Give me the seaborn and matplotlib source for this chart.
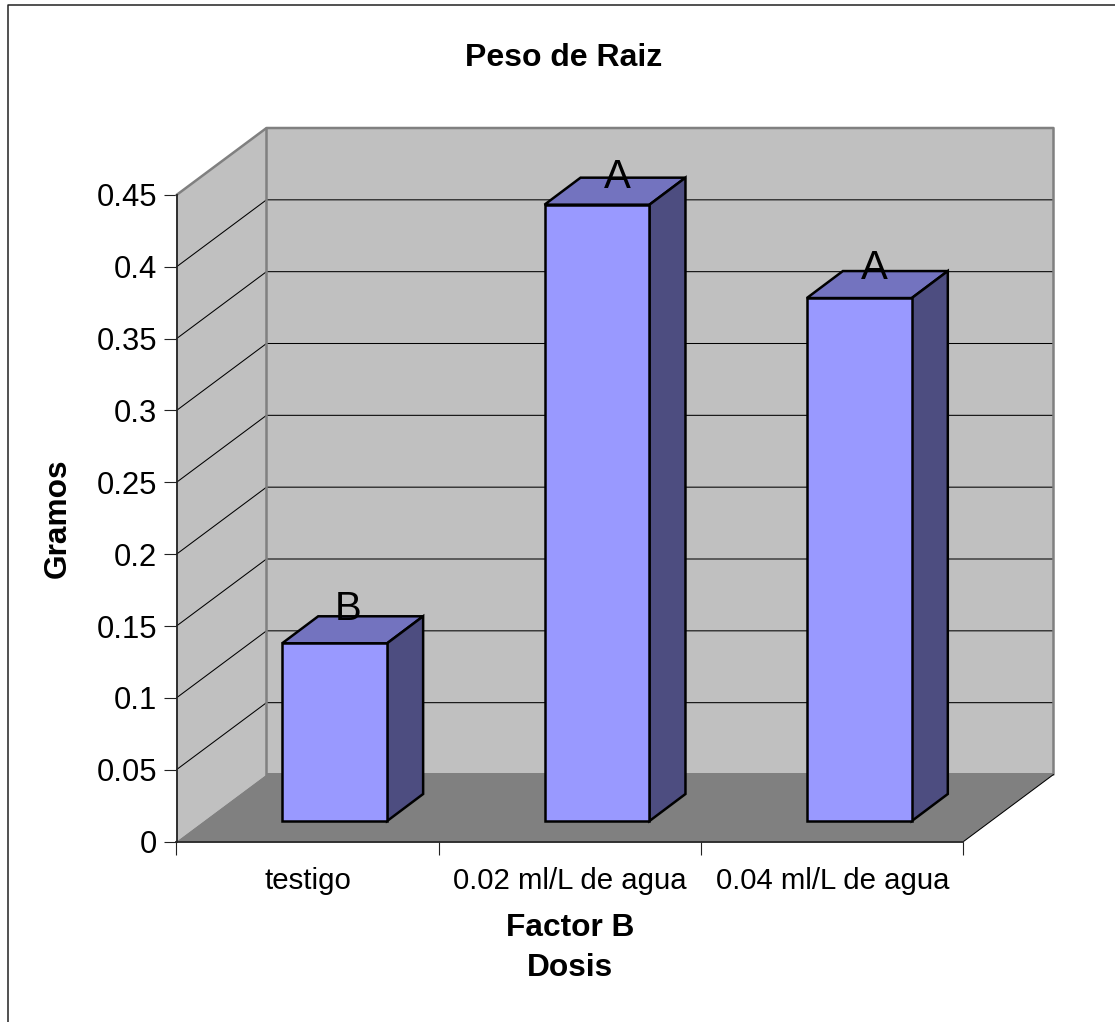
import matplotlib
matplotlib.use('Agg')
import matplotlib.pyplot as plt
from matplotlib.lines import Line2D
from matplotlib.patches import Polygon
import pandas as pd
import seaborn as sns

categories = ['testigo', '0.02 ml/L de agua', '0.04 ml/L de agua']
gramos = [0.1237, 0.429, 0.364]
letters = ['B', 'A', 'A']
y_ticks = [0, 0.05, 0.1, 0.15, 0.2, 0.25, 0.3, 0.35, 0.4, 0.45]
y_labels = ['0', '0.05', '0.1', '0.15', '0.2', '0.25', '0.3', '0.35', '0.4', '0.45']

W, H = 1115, 1022
FONT = ['Liberation Sans', 'DejaVu Sans']

# where the front plane of the fake 3d box sits, in pixels
left, right, top, bottom = 176.5, 963.5, 195, 841.5
px_x = 3 / (right - left)
px_y = 0.45 / (bottom - top)
wall_dx, wall_dy = 90 * px_x, 67 * px_y
floor_dy = 68.5 * px_y
bar_dx, bar_dy = 36 * px_x, 27 * px_y
letter_offsets = [(13, 23), (20, 16.5), (15, 19)]


def px_text(x, y, s, **kw):
    fig.text(x / W, 1 - y / H, s, ha='center', va='center', family=FONT, **kw)


sns.set_theme(style='white')
plt.rcParams['font.family'] = FONT

df = pd.DataFrame({'dosis': categories, 'gramos': gramos})

fig = plt.figure(figsize=(W / 100, H / 100), dpi=100, facecolor='white')
rect = [left / W, 1 - bottom / H, (right - left) / W, (bottom - top) / H]
ax = fig.add_axes(rect, zorder=0)
ax.set_xlim(-0.5, 2.5)
ax.set_ylim(0, 0.45)
ax.patch.set_visible(False)

x0, x1 = -0.5, 2.5
y0, y1 = 0, 0.45
# walls and floor
ax.add_patch(Polygon([(x0 + wall_dx, y0 + wall_dy), (x1 + wall_dx, y0 + wall_dy),
                      (x1 + wall_dx, y1 + wall_dy), (x0 + wall_dx, y1 + wall_dy)],
                     fc='#C0C0C0', ec='none', clip_on=False, zorder=1))
ax.add_patch(Polygon([(x0, y0), (x0 + wall_dx, y0 + wall_dy),
                      (x0 + wall_dx, y1 + wall_dy), (x0, y1)],
                     fc='#C0C0C0', ec='none', clip_on=False, zorder=1))

# grid lines, wall and back
for t in y_ticks[1:-1]:
    ax.plot([x0, x0 + wall_dx, x1 + wall_dx], [t, t + wall_dy, t + wall_dy],
            color='black', lw=0.75, clip_on=False, zorder=2)

# wall outlines
ax.plot([x0, x0 + wall_dx, x1 + wall_dx, x1 + wall_dx], [y1, y1 + wall_dy, y1 + wall_dy, y0 + wall_dy],
        color='#808080', lw=1.8, clip_on=False, zorder=3)
ax.plot([x0 + wall_dx, x0 + wall_dx], [y0 + wall_dy, y1 + wall_dy],
        color='#808080', lw=1.8, clip_on=False, zorder=3)
ax.add_patch(Polygon([(x0, y0), (x1, y0), (x1 + wall_dx, y0 + wall_dy),
                      (x1 + wall_dx, y0 + floor_dy), (x0 + wall_dx, y0 + floor_dy), (x0 + wall_dx, y0 + wall_dy)],
                     fc='#808080', ec='none', clip_on=False, zorder=3))
ax.plot([x1, x1 + wall_dx], [y0, y0 + wall_dy], color='black', lw=0.75, clip_on=False, zorder=3)

sns.despine(ax=ax)
for side in ['left', 'bottom']:
    ax.spines[side].set_color('#222222')
    ax.spines[side].set_linewidth(1.3)
    ax.spines[side].set_zorder(4)

ax.set_yticks(y_ticks)
ax.set_yticklabels(y_labels)
ax.tick_params(axis='y', left=True, length=9.4, width=0.8, color='#222222', pad=4.5,
               labelsize=22.3, labelcolor='black')
ax.set_xticks([-0.5, 0.5, 1.5, 2.5])
ax.set_xticklabels([])
ax.set_xticks([0, 1, 2], minor=True)
ax.set_xticklabels(categories, minor=True)
ax.tick_params(axis='x', which='major', bottom=True, length=9.6, width=0.8, color='#222222')
ax.tick_params(axis='x', which='minor', bottom=False, length=0, pad=18, labelsize=21.2, labelcolor='black')

# bars stand further back on the floor, so they get their own shifted axes
bar_rect = [(left + 27) / W, 1 - (bottom - 20.5) / H, (right - left) / W, (bottom - top) / H]
ax_bars = fig.add_axes(bar_rect, zorder=1)
ax_bars.patch.set_visible(False)
sns.barplot(data=df, x='dosis', y='gramos', ax=ax_bars, color='#9999FF', saturation=1,
            width=0.4, edgecolor='black', linewidth=1.8, zorder=5)
ax_bars.set_xlim(-0.5, 2.5)
ax_bars.set_ylim(0, 0.45)
ax_bars.axis('off')

for bar, letter, (ox, oy) in zip(ax_bars.patches, letters, letter_offsets):
    bar.set_clip_on(False)
    bar.set_joinstyle('miter')
    xa, xb = bar.get_x(), bar.get_x() + bar.get_width()
    h = bar.get_height()
    ax_bars.add_patch(Polygon([(xa, h), (xb, h), (xb + bar_dx, h + bar_dy), (xa + bar_dx, h + bar_dy)],
                              fc='#7373BF', ec='black', lw=1.8, clip_on=False, zorder=4,
                              joinstyle='miter'))
    ax_bars.add_patch(Polygon([(xb, 0), (xb + bar_dx, bar_dy), (xb + bar_dx, h + bar_dy), (xb, h)],
                              fc='#4D4D80', ec='black', lw=1.8, clip_on=False, zorder=4,
                              joinstyle='miter'))
    ax_bars.annotate(letter, (xa + bar.get_width() / 2, h), xytext=(ox * 0.72, oy * 0.72),
                     textcoords='offset points', ha='center', va='baseline', fontsize=29,
                     color='black', zorder=6, annotation_clip=False)

px_text(564, 58, 'Peso de Raiz', fontsize=23, fontweight='bold', color='black')
px_text(58, 518, 'Gramos', fontsize=22.8, fontweight='bold', rotation=90, color='black')
px_text(570, 928, 'Factor B', fontsize=22.8, fontweight='bold', color='black')
px_text(570, 968, 'Dosis', fontsize=22.8, fontweight='bold', color='black')

# chart frame runs off the image on the right and at the bottom
fig.add_artist(Line2D([7.5 / W, 7.5 / W, 1], [0, 1 - 5.5 / H, 1 - 5.5 / H], color='#222222', lw=1.1))

fig.savefig('out.png', dpi=100)
